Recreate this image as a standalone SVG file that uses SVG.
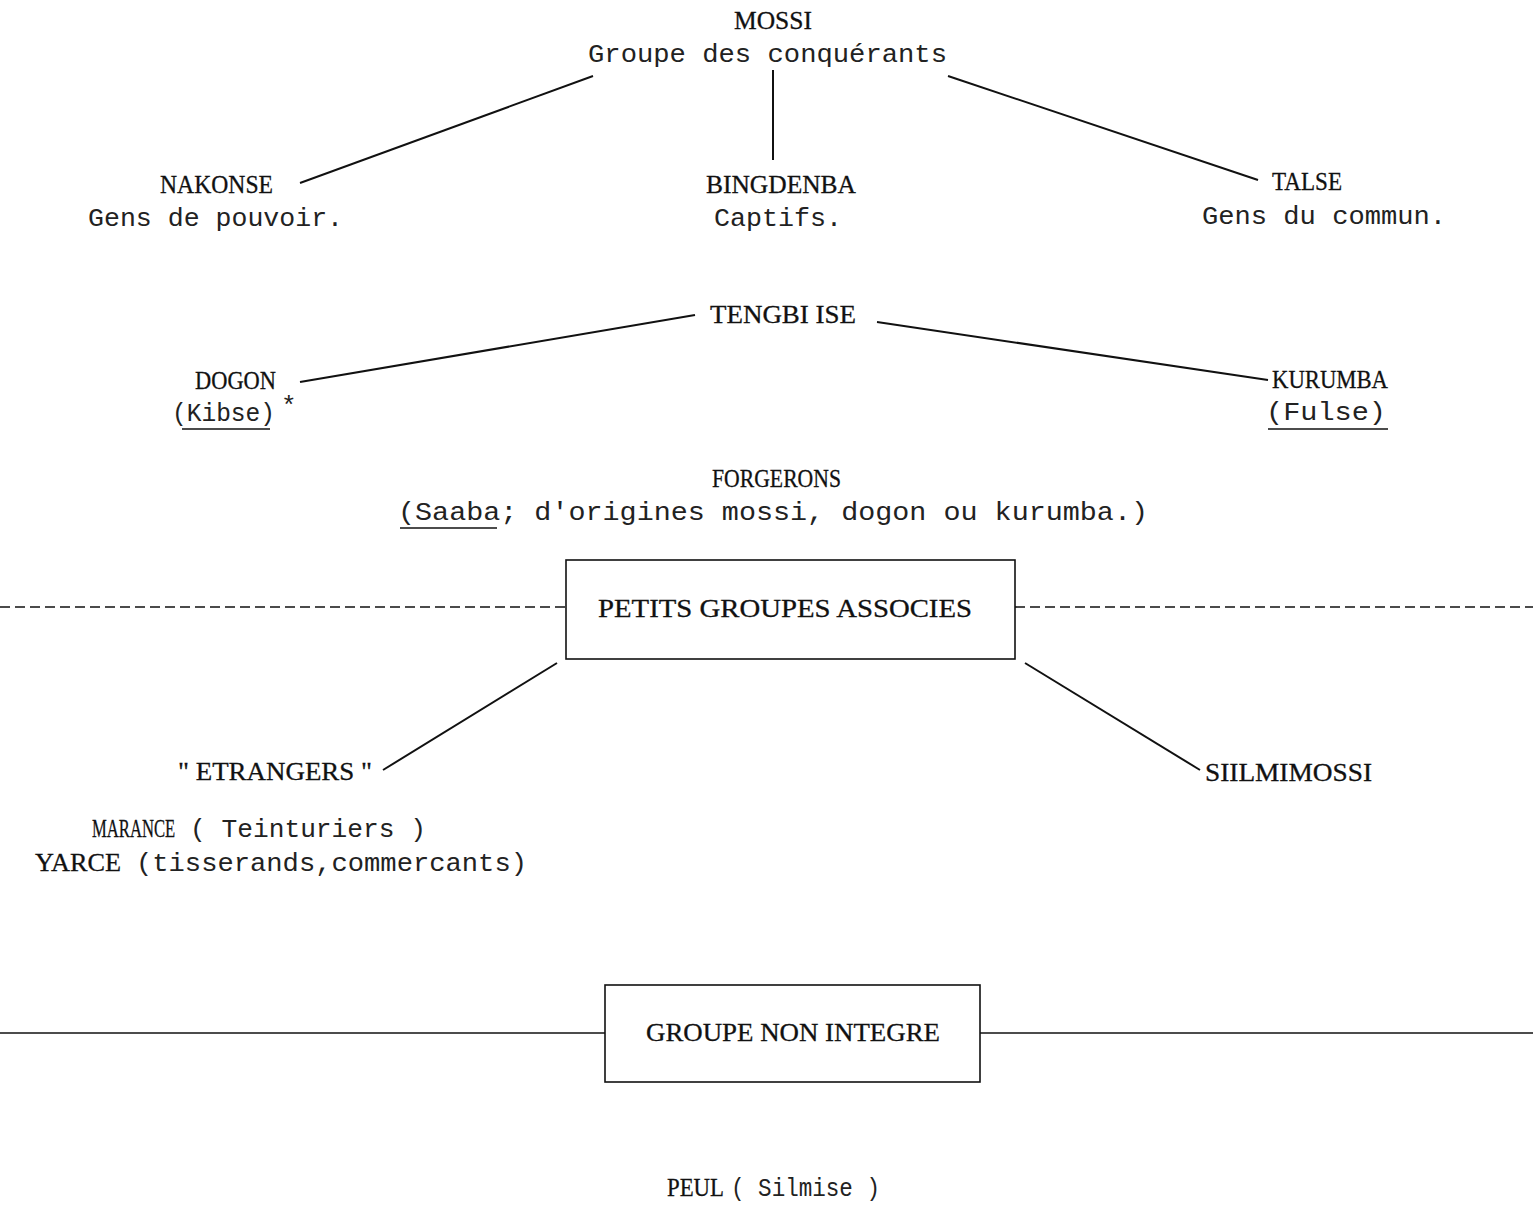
<svg xmlns="http://www.w3.org/2000/svg" width="1533" height="1209" viewBox="0 0 1533 1209">
<style>
.cap{font-family:"Liberation Serif","DejaVu Serif",serif;font-size:26px;fill:#111;stroke:#111;stroke-width:0.3}
.mono{font-family:"Liberation Mono","DejaVu Sans Mono",monospace;font-size:26px;fill:#222}
.box{fill:none;stroke:#111;stroke-width:1.6}
.ln{stroke:#111;stroke-width:2;fill:none}
.dash{stroke:#111;stroke-width:1.6;stroke-dasharray:10 5;fill:none}
.solid{stroke:#111;stroke-width:1.6;fill:none}
.ul{stroke:#111;stroke-width:1.3}
</style>
<rect width="1533" height="1209" fill="#fff"/>
<g id="connectors">
<line class="ln" x1="593" y1="76" x2="300" y2="183"/>
<line class="ln" x1="773" y1="70" x2="773" y2="160"/>
<line class="ln" x1="948" y1="76" x2="1258" y2="180"/>
<line class="ln" x1="695" y1="315" x2="300" y2="382"/>
<line class="ln" x1="877" y1="322" x2="1268" y2="380"/>
<line class="ln" x1="557" y1="663" x2="383" y2="770"/>
<line class="ln" x1="1025" y1="663" x2="1200" y2="770"/>
<line class="dash" x1="0" y1="607" x2="566" y2="607"/>
<line class="dash" x1="1015" y1="607" x2="1533" y2="607"/>
<line class="solid" x1="0" y1="1033" x2="605" y2="1033"/>
<line class="solid" x1="980" y1="1033" x2="1533" y2="1033"/>
</g>
<g id="mossi">
<text class="cap" x="734" y="29" textLength="78" lengthAdjust="spacingAndGlyphs">MOSSI</text>
<text class="mono" x="588" y="62" textLength="359" lengthAdjust="spacingAndGlyphs">Groupe des conquérants</text>
</g>
<g id="nakonse">
<text class="cap" x="160" y="193" textLength="113" lengthAdjust="spacingAndGlyphs">NAKONSE</text>
<text class="mono" x="88" y="226" textLength="255" lengthAdjust="spacingAndGlyphs">Gens de pouvoir.</text>
</g>
<g id="bingdenba">
<text class="cap" x="706" y="193" textLength="150" lengthAdjust="spacingAndGlyphs">BINGDENBA</text>
<text class="mono" x="714" y="226" textLength="128" lengthAdjust="spacingAndGlyphs">Captifs.</text>
</g>
<g id="talse">
<text class="cap" x="1272" y="190" textLength="70" lengthAdjust="spacingAndGlyphs">TALSE</text>
<text class="mono" x="1202" y="224" textLength="244" lengthAdjust="spacingAndGlyphs">Gens du commun.</text>
</g>
<g id="tengbiise">
<text class="cap" x="710" y="323" textLength="146" lengthAdjust="spacingAndGlyphs">TENGBI ISE</text>
</g>
<g id="dogon">
<text class="cap" x="195" y="389" textLength="81" lengthAdjust="spacingAndGlyphs">DOGON</text>
<text class="mono" x="172" y="421" textLength="103" lengthAdjust="spacingAndGlyphs">(Kibse)</text>
<text class="mono" x="281" y="414" font-size="15">*</text>
<line class="ul" x1="182" y1="429" x2="270" y2="429"/>
</g>
<g id="kurumba">
<text class="cap" x="1272" y="388" textLength="116" lengthAdjust="spacingAndGlyphs">KURUMBA</text>
<text class="mono" x="1266" y="420" textLength="120" lengthAdjust="spacingAndGlyphs">(Fulse)</text>
<line class="ul" x1="1268" y1="429" x2="1388" y2="429"/>
</g>
<g id="forgerons">
<text class="cap" x="712" y="487" textLength="129" lengthAdjust="spacingAndGlyphs">FORGERONS</text>
<text class="mono" x="398" y="520" textLength="750" lengthAdjust="spacingAndGlyphs">(Saaba; d'origines mossi, dogon ou kurumba.)</text>
<line class="ul" x1="400" y1="528" x2="497" y2="528"/>
</g>
<g id="petits-groupes">
<rect class="box" x="566" y="560" width="449" height="99"/>
<text class="cap" x="598" y="617" textLength="374" lengthAdjust="spacingAndGlyphs">PETITS  GROUPES  ASSOCIES</text>
</g>
<g id="etrangers">
<text class="cap" x="178" y="780" textLength="194" lengthAdjust="spacingAndGlyphs">" ETRANGERS "</text>
</g>
<g id="silmimossi">
<text class="cap" x="1205" y="781" textLength="167" lengthAdjust="spacingAndGlyphs">SIILMIMOSSI</text>
</g>
<g id="marance-yarce">
<text class="cap" transform="translate(92,837) scale(0.64,1)" x="0" y="0">MARANCE</text>
<text class="mono" x="190" y="837" textLength="236" lengthAdjust="spacingAndGlyphs">( Teinturiers )</text>
<text class="cap" x="35" y="871" textLength="86" lengthAdjust="spacingAndGlyphs">YARCE</text>
<text class="mono" x="136" y="871" textLength="391" lengthAdjust="spacingAndGlyphs">(tisserands,commercants)</text>
</g>
<g id="groupe-non-integre">
<rect class="box" x="605" y="985" width="375" height="97"/>
<text class="cap" x="646" y="1041" textLength="294" lengthAdjust="spacingAndGlyphs">GROUPE  NON  INTEGRE</text>
</g>
<g id="peul">
<text class="cap" x="667" y="1196" textLength="57" lengthAdjust="spacingAndGlyphs">PEUL</text>
<text class="mono" x="731" y="1196" textLength="149" lengthAdjust="spacingAndGlyphs">( Silmise )</text>
</g>
</svg>
